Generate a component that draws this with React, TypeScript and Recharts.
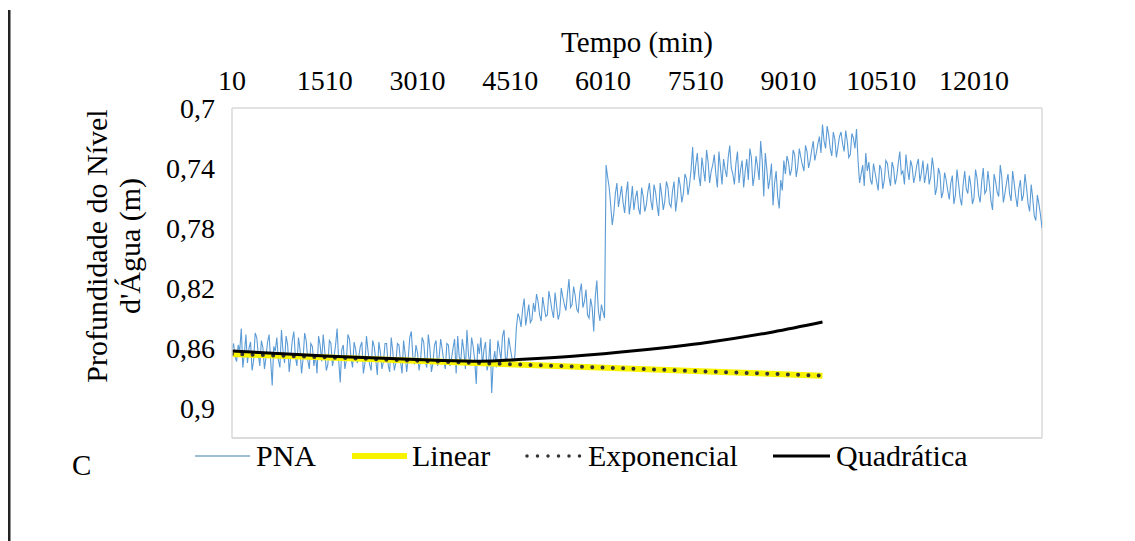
import React from 'react';
import { LineChart, Line, XAxis, YAxis, CartesianGrid, ReferenceLine } from 'recharts';

// PNA readings (m) at 10, 60, 110, ... min
const pnaEven = [
  0.861, 0.866, 0.858, 0.847, 0.864, 0.870, 0.856, 0.868, 0.853, 0.872,
  0.860, 0.866, 0.851, 0.885, 0.862, 0.868, 0.848, 0.870, 0.858, 0.866,
  0.849, 0.872, 0.861, 0.867, 0.855, 0.874, 0.859, 0.864, 0.852, 0.869,
  0.862, 0.871, 0.857, 0.866, 0.847, 0.883, 0.858, 0.868, 0.854, 0.873,
  0.861, 0.866, 0.856, 0.870, 0.862, 0.875, 0.859, 0.878, 0.863, 0.869,
  0.857, 0.876, 0.862, 0.870, 0.858, 0.877, 0.864, 0.867, 0.849, 0.871,
  0.863, 0.868, 0.856, 0.873, 0.860, 0.870, 0.855, 0.866, 0.861, 0.874,
  0.858, 0.867, 0.854, 0.852, 0.869, 0.862, 0.848, 0.871, 0.859, 0.884,
  0.864, 0.872, 0.856, 0.870, 0.890, 0.862, 0.855, 0.868, 0.848, 0.866,
  0.860, 0.872, 0.846, 0.840, 0.834, 0.845, 0.831, 0.841, 0.836, 0.829,
  0.842, 0.833, 0.838, 0.828, 0.840, 0.832, 0.837, 0.826, 0.835, 0.814,
  0.831, 0.825, 0.836, 0.817, 0.829, 0.838, 0.827, 0.849, 0.815, 0.842,
  0.836, 0.738, 0.753, 0.778, 0.757, 0.766, 0.752, 0.770, 0.749, 0.763,
  0.768, 0.755, 0.771, 0.759, 0.765, 0.750, 0.768, 0.756, 0.772, 0.758,
  0.762, 0.753, 0.766, 0.749, 0.760, 0.752, 0.757, 0.747, 0.751, 0.726,
  0.738, 0.745, 0.733, 0.749, 0.736, 0.742, 0.731, 0.753, 0.740, 0.734,
  0.746, 0.725, 0.744, 0.737, 0.750, 0.735, 0.742, 0.748, 0.733, 0.745,
  0.739, 0.722, 0.759, 0.741, 0.747, 0.765, 0.742, 0.767, 0.755, 0.744,
  0.736, 0.741, 0.731, 0.739, 0.733, 0.742, 0.729, 0.735, 0.722, 0.730,
  0.719, 0.711, 0.727, 0.718, 0.732, 0.721, 0.726, 0.716, 0.729, 0.722,
  0.731, 0.720, 0.714, 0.750, 0.738, 0.730, 0.736, 0.751, 0.743, 0.755,
  0.741, 0.748, 0.737, 0.752, 0.740, 0.746, 0.729, 0.742, 0.731, 0.748,
  0.739, 0.745, 0.734, 0.743, 0.750, 0.737, 0.746, 0.741, 0.753, 0.744,
  0.756, 0.748, 0.761, 0.745, 0.758, 0.750, 0.765, 0.742, 0.757, 0.752,
  0.760, 0.747, 0.763, 0.740, 0.755, 0.751, 0.768, 0.749, 0.759, 0.746,
  0.757, 0.744, 0.762, 0.750, 0.766, 0.748, 0.758, 0.753, 0.769, 0.760,
  0.775, 0.764, 0.780,
];
// PNA readings (m) at 35, 85, 135, ... min
const pnaOdd = [
  0.857, 0.869, 0.862, 0.873, 0.851, 0.860, 0.875, 0.850, 0.864, 0.855,
  0.874, 0.856, 0.868, 0.859, 0.853, 0.873, 0.862, 0.852, 0.876, 0.855,
  0.866, 0.853, 0.877, 0.850, 0.868, 0.857, 0.872, 0.877, 0.858, 0.851,
  0.875, 0.855, 0.872, 0.858, 0.868, 0.861, 0.874, 0.851, 0.867, 0.856,
  0.870, 0.859, 0.877, 0.852, 0.871, 0.855, 0.868, 0.856, 0.874, 0.857,
  0.871, 0.853, 0.875, 0.857, 0.869, 0.855, 0.876, 0.853, 0.866, 0.858,
  0.875, 0.853, 0.869, 0.851, 0.876, 0.858, 0.872, 0.854, 0.869, 0.857,
  0.872, 0.860, 0.877, 0.866, 0.854, 0.874, 0.865, 0.853, 0.868, 0.857,
  0.853, 0.861, 0.875, 0.854, 0.869, 0.873, 0.861, 0.852, 0.870, 0.853,
  0.866, 0.865, 0.837, 0.846, 0.827, 0.838, 0.843, 0.830, 0.824, 0.838,
  0.826, 0.839, 0.822, 0.835, 0.823, 0.841, 0.820, 0.831, 0.824, 0.833,
  0.819, 0.834, 0.823, 0.833, 0.821, 0.840, 0.833, 0.826, 0.835, 0.831,
  0.840, 0.746, 0.765, 0.770, 0.750, 0.759, 0.763, 0.757, 0.771, 0.752,
  0.760, 0.767, 0.753, 0.769, 0.756, 0.762, 0.751, 0.765, 0.750, 0.768,
  0.749, 0.764, 0.755, 0.769, 0.746, 0.763, 0.744, 0.758, 0.741, 0.748,
  0.730, 0.752, 0.741, 0.728, 0.750, 0.738, 0.744, 0.729, 0.751, 0.741,
  0.733, 0.740, 0.751, 0.729, 0.741, 0.753, 0.734, 0.727, 0.752, 0.732,
  0.748, 0.735, 0.730, 0.754, 0.737, 0.750, 0.759, 0.748, 0.735, 0.732,
  0.745, 0.728, 0.746, 0.727, 0.738, 0.725, 0.740, 0.728, 0.735, 0.724,
  0.730, 0.722, 0.712, 0.727, 0.716, 0.733, 0.719, 0.724, 0.715, 0.733,
  0.717, 0.727, 0.735, 0.744, 0.752, 0.742, 0.748, 0.737, 0.749, 0.738,
  0.754, 0.735, 0.746, 0.736, 0.751, 0.737, 0.744, 0.751, 0.741, 0.735,
  0.750, 0.738, 0.749, 0.735, 0.744, 0.751, 0.733, 0.758, 0.740, 0.760,
  0.743, 0.755, 0.750, 0.764, 0.741, 0.760, 0.751, 0.754, 0.745, 0.764,
  0.741, 0.758, 0.749, 0.757, 0.742, 0.762, 0.744, 0.756, 0.738, 0.763,
  0.750, 0.757, 0.742, 0.759, 0.754, 0.762, 0.744, 0.764, 0.751, 0.772,
  0.758, 0.771,
];
const T0 = 10;
const STEP_MIN = 50;

const xTicks = [10, 1510, 3010, 4510, 6010, 7510, 9010, 10510, 12010];
const yTicks = [0.7, 0.74, 0.78, 0.82, 0.86, 0.9];

const linearT = [10, 9560];
const linearV = [0.864, 0.8785];
const expT = [10, 4790, 9560];
const expV = [0.864, 0.8712, 0.8785];
const quadT = [10, 1600, 3200, 4020, 4720, 5520, 6600, 7690, 8760, 9560];
const quadV = [0.862, 0.8655, 0.868, 0.8688, 0.8675, 0.8655, 0.8615, 0.8563, 0.8493, 0.8427];

const pnaData: { t: number; v: number }[] = [];
pnaEven.forEach((v, k) => {
  pnaData.push({ t: T0 + k * STEP_MIN, v });
  if (k < pnaOdd.length) pnaData.push({ t: T0 + k * STEP_MIN + STEP_MIN / 2, v: pnaOdd[k] });
});
const linData = linearT.map((t, i) => ({ t, v: linearV[i] }));
const expData = expT.map((t, i) => ({ t, v: expV[i] }));
const quadData = quadT.map((t, i) => ({ t, v: quadV[i] }));

const X_MAX = pnaData[pnaData.length - 1].t;
const FONT = '"Liberation Serif", "Times New Roman", serif';
const GRID = '#d9d9d9';

export default function App() {
  return (
    <div style={{ position: 'absolute', left: 0, top: 0, width: 1135, height: 541, background: '#fff' }}>
      <LineChart
        width={1135}
        height={541}
        margin={{ top: 78, left: 152, right: 93, bottom: 103 }}
        style={{ position: 'absolute', left: 0, top: 0 }}
      >
        <CartesianGrid vertical={false} stroke={GRID} strokeWidth={1.5} />
        <XAxis
          xAxisId="x"
          type="number"
          dataKey="t"
          orientation="top"
          domain={[10, X_MAX]}
          ticks={xTicks}
          interval={0}
          height={30}
          axisLine={false}
          tickLine={false}
          tickSize={0}
          tickMargin={18}
          tick={{ fill: '#000', fontSize: 28, fontFamily: FONT }}
          allowDataOverflow
        />
        <YAxis
          yAxisId="y"
          type="number"
          domain={[0.7, 0.92]}
          reversed
          ticks={yTicks}
          interval={0}
          width={80}
          axisLine={{ stroke: GRID, strokeWidth: 1.5 }}
          tickLine={false}
          tickSize={0}
          tickMargin={17}
          tick={{ fill: '#000', fontSize: 28, fontFamily: FONT }}
          tickFormatter={(v: number) => String(v).replace('.', ',')}
          allowDataOverflow
        />
        <ReferenceLine xAxisId="x" yAxisId="y" y={0.92} stroke={GRID} strokeWidth={1.5} />
        <ReferenceLine xAxisId="x" yAxisId="y" x={X_MAX} stroke={GRID} strokeWidth={1.5} />
        <Line
          xAxisId="x"
          yAxisId="y"
          data={pnaData}
          dataKey="v"
          type="linear"
          stroke="#5b9bd5"
          strokeWidth={1.1}
          dot={false}
          isAnimationActive={false}
        />
        <Line
          xAxisId="x"
          yAxisId="y"
          data={linData}
          dataKey="v"
          type="linear"
          stroke="#f8f400"
          strokeWidth={6}
          dot={false}
          isAnimationActive={false}
        />
        <Line
          xAxisId="x"
          yAxisId="y"
          data={expData}
          dataKey="v"
          type="monotone"
          stroke="#333"
          strokeWidth={4}
          strokeDasharray="0 10.3"
          strokeLinecap="round"
          dot={false}
          isAnimationActive={false}
        />
        <Line
          xAxisId="x"
          yAxisId="y"
          data={quadData}
          dataKey="v"
          type="monotone"
          stroke="#000"
          strokeWidth={3}
          dot={false}
          isAnimationActive={false}
        />
      </LineChart>
      <svg
        width={1135}
        height={541}
        style={{ position: 'absolute', left: 0, top: 0, pointerEvents: 'none' }}
        fontFamily={FONT}
      >
        <rect x={8} y={10} width={2.5} height={531} fill="#222" />
        <text x={637} y={52} textAnchor="middle" fontSize={29} fill="#000">Tempo (min)</text>
        <text transform="translate(107,246) rotate(-90)" textAnchor="middle" fontSize={30} fill="#000">Profundidade do Nível</text>
        <text transform="translate(140,246) rotate(-90)" textAnchor="middle" fontSize={30} fill="#000">d'Água (m)</text>
        <text x={72} y={475} fontSize={29} fill="#000">C</text>
        <line x1={195} x2={250} y1={456} y2={456} stroke="#7ea8c9" strokeWidth={1.5} />
        <text x={256} y={466} fontSize={30} fill="#000">PNA</text>
        <line x1={352} x2={407} y1={456} y2={456} stroke="#f8f400" strokeWidth={6} />
        <text x={412} y={466} fontSize={30} fill="#000">Linear</text>
        <line x1={527} x2={582} y1={456} y2={456} stroke="#333" strokeWidth={3.5} strokeDasharray="0 10.5" strokeLinecap="round" />
        <text x={588} y={466} fontSize={30} fill="#000">Exponencial</text>
        <line x1={773} x2={830} y1={456} y2={456} stroke="#000" strokeWidth={3} />
        <text x={836} y={466} fontSize={30} fill="#000">Quadrática</text>
      </svg>
    </div>
  );
}
